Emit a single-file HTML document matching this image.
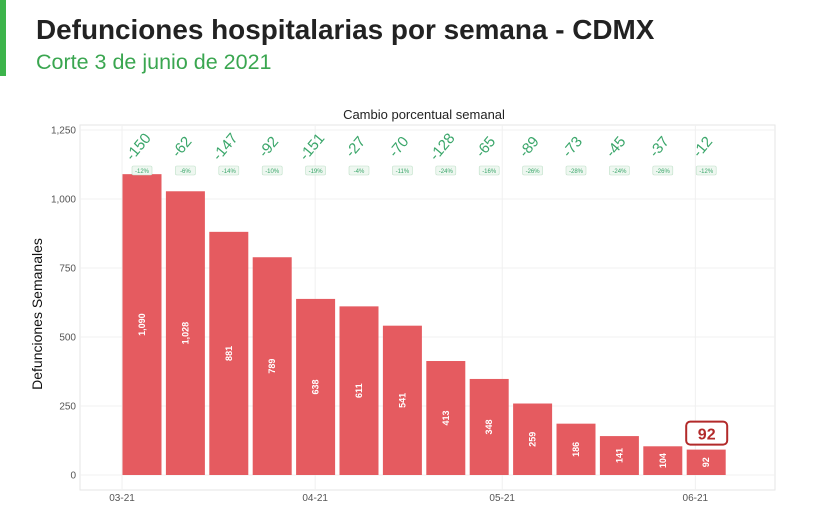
<!DOCTYPE html>
<html><head><meta charset="utf-8"><style>
body{margin:0;width:838px;height:530px;background:#fff;font-family:"Liberation Sans",sans-serif;overflow:hidden;position:relative}
#bar{position:absolute;left:0;top:0;width:6px;height:76px;background:#3cb44b}
#t{position:absolute;left:36px;top:14px;font-size:27.9px;font-weight:bold;color:#222}
#s{position:absolute;left:36px;top:50px;font-size:21.5px;color:#3aa650}
</style></head><body>
<div id="bar"></div>
<div id="t">Defunciones hospitalarias por semana - CDMX</div>
<div id="s">Corte 3 de junio de 2021</div>
<svg id="c" width="838" height="530" style="position:absolute;left:0;top:0"></svg>
<script>
const values=[1090,1028,881,789,638,611,541,413,348,259,186,141,104,92];
const deltas=[-150,-62,-147,-92,-151,-27,-70,-128,-65,-89,-73,-45,-37,-12];
const pcts=["-12%","-6%","-14%","-10%","-19%","-4%","-11%","-24%","-16%","-26%","-28%","-24%","-26%","-12%"];
const yTicks=[0,250,500,750,1000,1250];
const xTickLabels=["03-21","04-21","05-21","06-21"];
const xTickIdx=[-0.46,3.99,8.3,12.75];
const NS="http://www.w3.org/2000/svg",svg=document.getElementById('c');
function y(v){return 475-v*(345/1250);}
function x(i){return 142+i*43.4;}
function el(t,a,txt){const e=document.createElementNS(NS,t);for(const k in a)e.setAttribute(k,a[k]);if(txt!=null)e.textContent=txt;svg.appendChild(e);return e;}
let p=el('rect',{x:80,y:125,width:695,height:365,fill:'#fff',stroke:'#e6e6e6'});


let st=el('text',{x:424,y:119,'text-anchor':'middle','font-size':13,fill:'#222'},'Cambio porcentual semanal');


yTicks.forEach(v=>{
 let g=el('line',{x1:80,x2:775,y1:y(v),y2:y(v),stroke:'#f0f0f0'});
 
 
 let t=el('text',{x:76,y:y(v)+3.5,'text-anchor':'end','font-size':10,fill:'#555'},v.toLocaleString('en-US'));
 
 
});
xTickIdx.forEach((d,k)=>{
 let g=el('line',{x1:x(d),x2:x(d),y1:125,y2:490,stroke:'#f0f0f0'});
 
 
 let t=el('text',{x:x(d),y:501,'text-anchor':'middle','font-size':10,fill:'#555'},xTickLabels[k]);
 
 
});
let yt=el('text',{transform:'translate(42,314) rotate(-90)','text-anchor':'middle','font-size':14,fill:'#111'},'Defunciones Semanales');


values.forEach((v,i)=>{
 let r=el('rect',{x:x(i)-19.5,y:y(v),width:39,height:475-y(v),fill:'#e55b60'});
 
 
 let cy=(y(v)+475)/2;
 let t=el('text',{transform:`translate(${x(i)+3},${cy}) rotate(-90)`,'text-anchor':'middle','font-size':9,'font-weight':'bold',fill:'#fff'},v.toLocaleString('en-US'));
 
 
 let d=el('text',{transform:`translate(${x(i)},${150}) rotate(-50)`,'text-anchor':'middle','font-size':15,fill:'#3aa66a'},String(deltas[i]));
 
 
 let b=el('rect',{x:x(i)-10,y:166,width:20,height:9,rx:1.5,fill:'#eef7f0',stroke:'#bfe0c8','stroke-width':0.6});
 
 
 let pt=el('text',{x:x(i),y:173,'text-anchor':'middle','font-size':6,fill:'#3aa66a'},pcts[i]);
 
 
});
const li=values.length-1;
let cb=el('rect',{x:x(li)-20,y:y(values[li])-28,width:41,height:23,rx:4,fill:'#fff',stroke:'#b22a2a','stroke-width':2});


let ct=el('text',{x:x(li)+0.5,y:y(values[li])-10,'text-anchor':'middle','font-size':16,'font-weight':'bold',fill:'#b22a2a'},String(values[li]));


</script>
</body></html>
